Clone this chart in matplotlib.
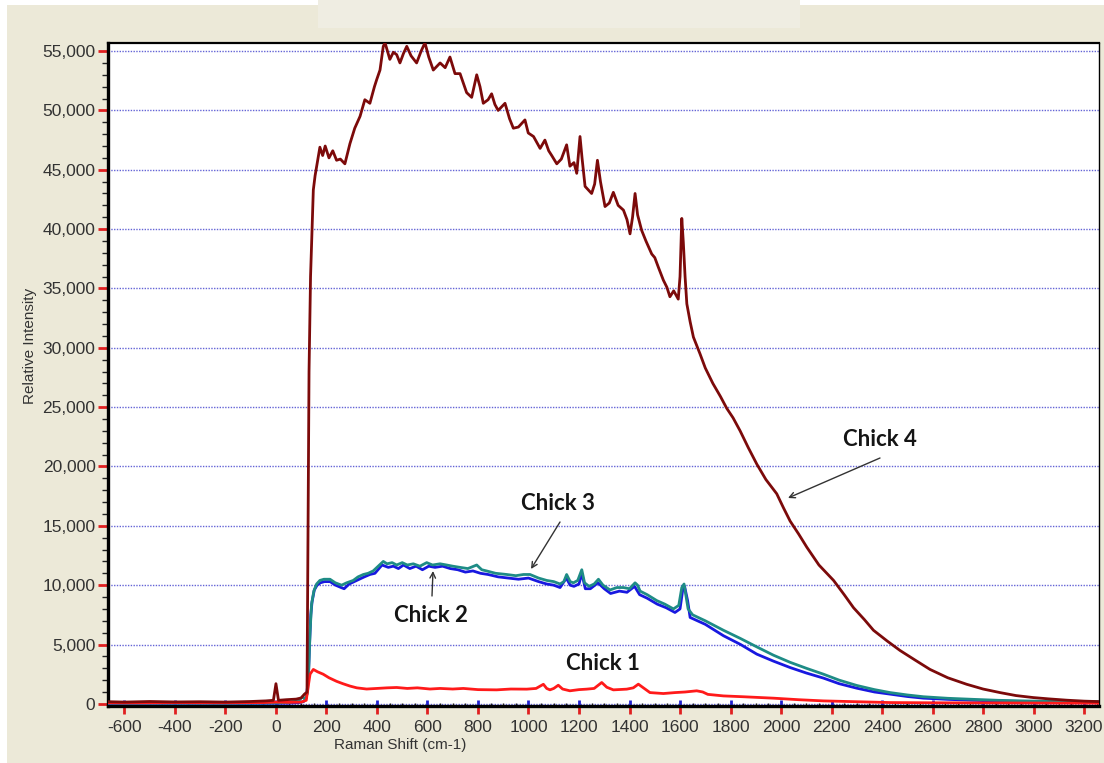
import matplotlib
matplotlib.use("Agg")
import matplotlib.pyplot as plt
from matplotlib.patches import Rectangle
from matplotlib.ticker import MultipleLocator, FixedLocator, FuncFormatter

plt.rcParams["axes.unicode_minus"] = False

# ---- Raman spectra (shift in cm-1, relative intensity) ----
chick4_shift = [-660, -600, -500, -400, -300, -200, -100, -40, -10, 0, 10, 40, 80, 100, 112, 123,
                127, 131, 137, 143, 148, 155, 162, 174, 185, 195, 210, 225, 240, 255, 273, 293,
                312, 333, 352, 372, 390, 399, 412, 425, 432, 451, 465, 478, 491, 505, 518, 535,
                557, 575, 590, 605, 623, 650, 670, 689, 709, 729, 755, 775, 795, 808, 821, 840,
                854, 867, 880, 907, 925, 940, 960, 986, 999, 1020, 1046, 1065, 1080, 1092, 1112,
                1130, 1151, 1164, 1180, 1191, 1204, 1212, 1224, 1250, 1262, 1273, 1285, 1303, 1320,
                1336, 1355, 1376, 1390, 1402, 1412, 1422, 1432, 1448, 1465, 1488, 1500, 1514, 1534,
                1548, 1560, 1575, 1593, 1600, 1607, 1613, 1620, 1627, 1640, 1653, 1679, 1700, 1730,
                1760, 1785, 1810, 1838, 1870, 1904, 1940, 1983, 2010, 2036, 2070, 2102, 2150, 2208,
                2250, 2287, 2330, 2366, 2420, 2471, 2530, 2590, 2660, 2735, 2800, 2867, 2930, 2999,
                3060, 3131, 3200, 3260]
chick4_int = [180, 150, 200, 160, 180, 150, 200, 250, 300, 1700, 300, 350, 400, 500, 800, 1000,
              15000, 28000, 36000, 40000, 43300, 44500, 45400, 46900, 46200, 47000, 46000, 46600,
              45800, 45900, 45500, 47200, 48500, 49500, 50900, 50600, 52000, 52600, 53400, 55400,
              55700, 54300, 54900, 54700, 54000, 54800, 55400, 54600, 54000, 55000, 55700, 54500,
              53400, 54000, 53600, 54500, 53100, 53100, 51500, 51100, 53000, 52000, 50600, 50900,
              51400, 50500, 50000, 50600, 49300, 48500, 48600, 49200, 48100, 47800, 46800, 47500,
              46600, 46200, 45500, 45900, 47100, 45300, 45600, 44700, 47800, 46000, 43600, 43000,
              43800, 45800, 44000, 41900, 42200, 43100, 42000, 41600, 40800, 39600, 41000, 43000,
              41200, 39900, 39000, 37900, 37600, 36800, 35700, 35100, 34300, 34800, 34100, 36000,
              40900, 38900, 36000, 33700, 32200, 30900, 29500, 28300, 27000, 25900, 24900, 24100,
              23000, 21600, 20200, 18900, 17700, 16500, 15400, 14300, 13200, 11700, 10400, 9200,
              8100, 7100, 6200, 5300, 4500, 3700, 2900, 2200, 1650, 1250, 950, 700, 530, 420, 310,
              230, 190]

chick3_shift = [-660, -600, -400, -200, -50, 0, 50, 90, 105, 115, 125, 130, 135, 141, 150, 161,
                174, 190, 214, 235, 260, 280, 306, 325, 346, 365, 385, 405, 425, 440, 460, 478,
                500, 520, 544, 570, 597, 620, 650, 676, 700, 729, 760, 795, 815, 834, 870, 914,
                950, 980, 1006, 1040, 1072, 1100, 1125, 1140, 1151, 1165, 1178, 1195, 1211, 1222,
                1240, 1260, 1277, 1295, 1323, 1350, 1376, 1400, 1422, 1432, 1442, 1470, 1508, 1540,
                1574, 1595, 1607, 1616, 1622, 1632, 1650, 1700, 1772, 1840, 1904, 1970, 2036, 2100,
                2168, 2230, 2300, 2370, 2432, 2500, 2564, 2660, 2762, 2860, 2960, 3100, 3260]
chick3_int = [60, 50, 60, 50, 70, 80, 120, 250, 600, 400, 900, 3000, 6000, 8400, 9500, 10100,
              10400, 10500, 10500, 10200, 10000, 10200, 10400, 10700, 10900, 11000, 11200, 11600,
              12000, 11800, 11900, 11700, 11900, 11700, 11800, 11600, 11900, 11700, 11800, 11700,
              11600, 11500, 11400, 11700, 11300, 11200, 11000, 10900, 10800, 10900, 10900, 10600,
              10400, 10300, 10100, 10300, 10900, 10300, 10200, 10400, 11300, 10200, 9900, 10100,
              10500, 10000, 9600, 9800, 9800, 9700, 10200, 10000, 9500, 9200, 8700, 8400, 8000,
              8300, 9800, 10100, 9300, 8000, 7500, 7000, 6200, 5500, 4800, 4100, 3500, 3000, 2500,
              2000, 1550, 1200, 950, 750, 600, 470, 380, 300, 250, 200, 180]

chick2_shift = [-660, -600, -400, -200, -50, 0, 50, 90, 110, 120, 128, 133, 138, 143, 152, 163,
                176, 192, 214, 236, 258, 270, 290, 310, 330, 350, 372, 392, 420, 445, 465, 485,
                505, 530, 555, 580, 605, 630, 660, 690, 720, 750, 780, 810, 840, 880, 920, 960,
                1000, 1040, 1072, 1100, 1125, 1150, 1165, 1180, 1200, 1211, 1225, 1245, 1275,
                1300, 1325, 1360, 1390, 1420, 1440, 1470, 1510, 1545, 1580, 1600, 1610, 1618,
                1630, 1640, 1700, 1772, 1840, 1904, 1970, 2036, 2100, 2168, 2230, 2300, 2370,
                2432, 2500, 2564, 2660, 2762, 2860, 2960, 3100, 3260]
chick2_int = [30, 20, 40, 30, 40, 50, 60, 100, 200, 500, 2000, 5000, 7500, 8600, 9600, 10000,
              10200, 10300, 10300, 10000, 9800, 9700, 10100, 10300, 10500, 10700, 10900, 11000,
              11700, 11500, 11600, 11400, 11700, 11400, 11600, 11300, 11600, 11500, 11600, 11400,
              11300, 11100, 11200, 11000, 10900, 10700, 10600, 10500, 10600, 10300, 10100, 10000,
              9800, 10600, 10000, 9900, 10100, 11000, 9700, 9700, 10200, 9700, 9300, 9500, 9400,
              9900, 9200, 8900, 8400, 8100, 7700, 8000, 9500, 9900, 8700, 7280, 6700, 5740, 5000,
              4190, 3600, 3060, 2600, 2170, 1700, 1320, 1000, 820, 620, 480, 380, 300, 240, 200,
              160, 150]

chick1_shift = [-660, -600, -400, -200, -50, 0, 50, 100, 120, 128, 135, 148, 165, 187, 210, 240,
                265, 293, 320, 359, 400, 440, 478, 520, 560, 610, 650, 700, 742, 800, 874, 930,
                993, 1030, 1059, 1072, 1085, 1100, 1118, 1135, 1164, 1200, 1230, 1260, 1290, 1310,
                1336, 1389, 1415, 1435, 1455, 1481, 1534, 1580, 1620, 1666, 1690, 1710, 1772,
                1850, 1970, 2070, 2168, 2300, 2432, 2600, 2800, 3000, 3260]
chick1_int = [90, 80, 100, 90, 110, 150, 130, 150, 300, 1500, 2500, 2900, 2700, 2500, 2200, 1900,
              1700, 1500, 1350, 1250, 1300, 1350, 1380, 1300, 1350, 1250, 1300, 1250, 1300, 1200,
              1180, 1250, 1240, 1300, 1650, 1300, 1180, 1300, 1570, 1250, 1100, 1200, 1240, 1300,
              1800, 1400, 1180, 1240, 1350, 1660, 1350, 950, 870, 950, 1000, 1100, 1000, 800, 670,
              600, 480, 350, 250, 180, 110, 90, 80, 70, 60]

y_ticks = list(range(0, 55001, 5000))
x_ticks = list(range(-600, 3201, 200))

BEIGE = "#ECE9D8"
W, H = 1104, 763

fig = plt.figure(figsize=(W / 100, H / 100), dpi=100, facecolor="white")
fig.patches.append(Rectangle((7 / W, 0), 1, (H - 5) / H, transform=fig.transFigure,
                             facecolor=BEIGE, edgecolor="none", zorder=-10))
fig.patches.append(Rectangle((318 / W, (H - 28) / H), 482 / W, 28 / H, transform=fig.transFigure,
                             facecolor="#EFEDE2", edgecolor="none", zorder=-9))

ax = fig.add_axes([108 / W, (H - 706) / H, (1099 - 108) / W, (706 - 43) / H])
ax.set_facecolor("white")

lw = 2.0
ax.plot(chick2_shift, chick2_int, color="#1818E0", lw=lw, zorder=3)
ax.plot(chick3_shift, chick3_int, color="#1E8C86", lw=lw, zorder=4)
ax.plot(chick1_shift, chick1_int, color="#FF1A1A", lw=lw, zorder=5)
ax.plot(chick4_shift, chick4_int, color="#7C0A0A", lw=lw, zorder=6)

ax.set_xlim(-665, 3259)
ax.set_ylim(-180, 55680)

# grid: horizontal blue dotted lines only
for yv in y_ticks:
    ax.axhline(yv, color="#3030C8", lw=1.0, ls=(0, (1, 1)), alpha=0.75, zorder=1)

ax.yaxis.set_major_locator(FixedLocator(y_ticks))
ax.yaxis.set_minor_locator(MultipleLocator(1000))
ax.yaxis.set_major_formatter(FuncFormatter(lambda v, p: f"{int(v):,}"))
ax.tick_params(axis="y", which="major", direction="out", length=7, width=2,
               color="#E02020", labelsize=12.5, labelcolor="#333333", pad=2)
ax.tick_params(axis="y", which="minor", direction="out", length=4, width=1, color="#222222")

ax.xaxis.set_major_locator(FixedLocator(x_ticks))
ax.xaxis.set_minor_locator(MultipleLocator(50))
ax.tick_params(axis="x", which="major", direction="out", length=6, width=2,
               color="#E02020", labelsize=12.5, labelcolor="#333333", pad=4)
ax.tick_params(axis="x", which="minor", direction="in", length=2.5, width=1, color="#222222")
for lab in ax.get_xticklabels() + ax.get_yticklabels():
    lab.set_fontfamily("Liberation Sans")

# small blue marks inside the bottom axis at each major tick
ax.vlines(x_ticks, 0, 0.009, transform=ax.get_xaxis_transform(), color="#2020D0", lw=2, zorder=2)

for side, w in (("left", 2.4), ("bottom", 2.4), ("top", 1.6), ("right", 1.0)):
    ax.spines[side].set_linewidth(w)
    ax.spines[side].set_color("black")

fig.text(400 / W, 1 - 745 / H, "Raman Shift (cm-1)", ha="center", va="center",
         fontsize=11, color="#333333", family="Liberation Sans")
fig.text(30 / W, 1 - 346 / H, "Relative Intensity", ha="center", va="center", rotation=90,
         fontsize=11, color="#333333", family="Liberation Sans")

ann = dict(fontsize=16, fontweight="bold", color="#151515", family="Lato", ha="center", va="center")
arrow = dict(arrowstyle="->", color="#333333", lw=1.0, shrinkA=0, shrinkB=0)


def fig_xy(px, py):
    return (px / W, 1 - py / H)


ax.annotate("Chick 4", xy=fig_xy(788, 498), xycoords="figure fraction",
            xytext=fig_xy(880, 439), textcoords="figure fraction", **ann)
ax.annotate("", xy=fig_xy(788, 498), xycoords="figure fraction",
            xytext=fig_xy(880, 458), textcoords="figure fraction", arrowprops=arrow)

ax.annotate("Chick 3", xy=fig_xy(558, 504), xycoords="figure fraction", **ann)
ax.annotate("", xy=fig_xy(531, 569), xycoords="figure fraction",
            xytext=fig_xy(560, 522), textcoords="figure fraction", arrowprops=arrow)

ax.annotate("Chick 2", xy=fig_xy(431, 615), xycoords="figure fraction", **ann)
ax.annotate("", xy=fig_xy(433, 571), xycoords="figure fraction",
            xytext=fig_xy(432, 596), textcoords="figure fraction", arrowprops=arrow)

ax.annotate("Chick 1", xy=fig_xy(603, 663), xycoords="figure fraction", **ann)

fig.savefig("out.png", dpi=100, facecolor=fig.get_facecolor())
